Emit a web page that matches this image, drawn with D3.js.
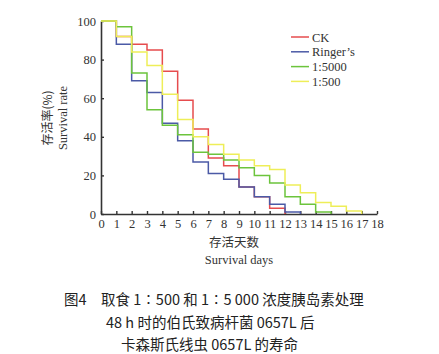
<!DOCTYPE html>
<html>
<head>
<meta charset="utf-8">
<script src="https://cdn.jsdelivr.net/npm/d3@7"></script>
<style>
  body { margin: 0; background: #fff; }
  svg text { font-family: "Liberation Serif", "DejaVu Serif", serif; fill: #333; }
  svg text.cjk { font-family: "Noto Sans CJK SC", sans-serif; }
</style>
</head>
<body>
<div id="chart"></div>
<script>
// survival (%) over each day interval [d, d+1]
const days = d3.range(0, 19);
const ckVals = [100, 92, 88, 85, 74, 59, 44, 29, 25, 14, 9, 3, 0];
const ringerVals = [100, 88, 69, 63, 47, 38, 27, 21, 18, 14, 9, 5, 1, 0];
const g5000Vals = [100, 97, 73, 54, 46, 41, 32, 31, 28, 24, 20, 16, 9, 5, 1, 0];
const g500Vals = [100, 92, 84, 77, 62, 49, 40, 36, 31, 28, 25, 23, 15, 11, 6, 4, 1.5, 0];
const yTicks = [0, 20, 40, 60, 80, 100];
const seriesNames = ["CK", "Ringer\u2019s", "1:5000", "1:500"];
const seriesColors = ["#e64c4e", "#4b5aa6", "#6cc43c", "#eeee58"];
const captionLines = [
  "图4\u3000取食 1∶500 和 1∶5 000 浓度胰岛素处理",
  "48 h 时的伯氏致病杆菌 0657L 后",
  "卡森斯氏线虫 0657L 的寿命"
];

const svg = d3.select('#chart').append('svg')
    .attr('width', 439)
    .attr('height', 354);

const x = d3.scaleLinear().domain([0, 18]).range([101, 377]);
const y = d3.scaleLinear().domain([0, 100]).range([214, 21]);

// axes
const xAxis = svg.append('g')
    .attr('transform', `translate(0,${y(0)})`)
    .call(d3.axisBottom(x).tickValues(days).tickSize(-3).tickSizeOuter(0).tickPadding(5));
const yAxis = svg.append('g')
    .attr('transform', `translate(${x(0)},0)`)
    .call(d3.axisLeft(y).tickValues(yTicks).tickSize(-3).tickSizeOuter(0).tickPadding(5));

[xAxis, yAxis].forEach(ax => {
    ax.select('.domain').attr('stroke', '#333').attr('stroke-width', 1.6);
    ax.selectAll('.tick line').attr('stroke', '#333').attr('stroke-width', 1.4);
    ax.selectAll('.tick text')
        .attr('fill', '#333')
        .style('font-family', '"Liberation Serif", serif')
        .style('font-size', '12.5px');
});

// step lines
const line = d3.line()
    .x((d, i) => x(i))
    .y(d => y(d))
    .curve(d3.curveStepAfter);

[ckVals, ringerVals, g5000Vals, g500Vals].forEach((vals, i) => {
    svg.append('path')
        .datum(vals)
        .attr('fill', 'none')
        .attr('stroke', seriesColors[i])
        .attr('stroke-width', 1.5)
        .attr('d', line);
});

// legend
const legend = svg.append('g').attr('transform', 'translate(291,37)');
seriesNames.forEach((name, i) => {
    const row = legend.append('g').attr('transform', `translate(0,${i * 14.8})`);
    row.append('line')
        .attr('x1', 0).attr('x2', 18)
        .attr('stroke', seriesColors[i])
        .attr('stroke-width', 1.5);
    row.append('text')
        .attr('x', 21).attr('y', 4.5)
        .style('font-size', '12.5px')
        .text(name);
});

// axis titles
svg.append('text')
    .attr('class', 'cjk')
    .attr('transform', 'translate(52,118) rotate(-90)')
    .attr('text-anchor', 'middle')
    .style('font-size', '12px')
    .text('存活率(%)');
svg.append('text')
    .attr('transform', 'translate(67,118) rotate(-90)')
    .attr('text-anchor', 'middle')
    .style('font-size', '12.5px')
    .text('Survival rate');

svg.append('text')
    .attr('class', 'cjk')
    .attr('x', 234).attr('y', 247)
    .attr('text-anchor', 'middle')
    .style('font-size', '12.5px')
    .text('存活天数');
svg.append('text')
    .attr('x', 239).attr('y', 264)
    .attr('text-anchor', 'middle')
    .style('font-size', '12.5px')
    .text('Survival days');

// caption
const capX = [64, 106, 121];
const capY = [305, 328, 350];
captionLines.forEach((t, i) => {
    svg.append('text')
        .attr('class', 'cjk')
        .attr('x', capX[i]).attr('y', capY[i])
        .style('font-size', '14.5px')
        .style('fill', '#222')
        .text(t);
});
</script>
</body>
</html>
